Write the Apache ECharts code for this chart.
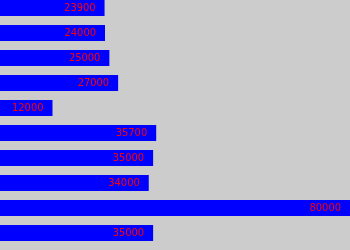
<!DOCTYPE html>
<html><head><meta charset="utf-8">
<script src="https://cdn.jsdelivr.net/npm/echarts@6/dist/echarts.min.js"></script>
<style>html,body{margin:0;padding:0;background:#cccccc}#c{width:350px;height:250px}</style>
</head><body><div id="c"></div>
<script>
var categories = ['A','B','C','D','E','F','G','H','I','J'];
var values = [23900, 24000, 25000, 27000, 12000, 35700, 35000, 34000, 80000, 35000];
var chart = echarts.init(document.getElementById('c'), null, {renderer:'canvas'});
chart.setOption({
  backgroundColor: '#cccccc',
  animation: false,
  grid: {left: 0, right: 0, top: 8, bottom: 17, containLabel: false},
  xAxis: {type: 'value', min: 0, max: 80000, show: false},
  yAxis: {type: 'category', data: categories, inverse: true, show: false, boundaryGap: false},
  series: [{
    type: 'bar',
    data: values,
    barWidth: 16,
    itemStyle: {color: '#0000ff'},
    label: {
      show: true,
      position: 'insideRight',
      distance: 9,
      color: '#ff0000',
      fontFamily: 'DejaVu Sans Condensed, DejaVu Sans',
      fontSize: 11
    }
  }]
});
</script></body></html>
